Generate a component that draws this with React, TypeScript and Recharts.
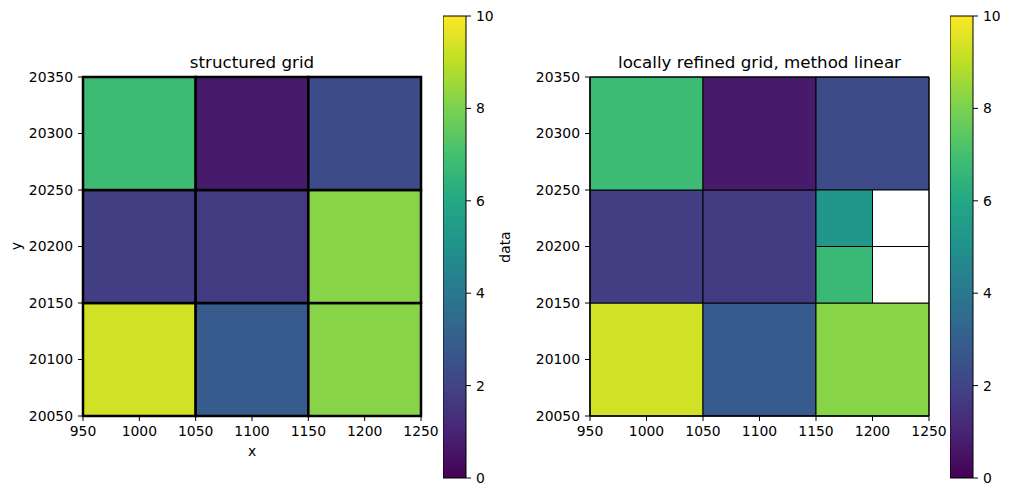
import React from "react";
import { ComposedChart, ReferenceArea, XAxis, YAxis } from "recharts";

const xEdges = [950, 1050, 1150, 1250];
const yEdges = [20050, 20150, 20250, 20350];
const xTicks = [950, 1000, 1050, 1100, 1150, 1200, 1250];
const yTicks = [20050, 20100, 20150, 20200, 20250, 20300, 20350];

// rows run bottom to top, columns left to right
const structuredValues = [
  [9.3, 2.85, 8.2],
  [1.8, 1.7, 8.2],
  [6.8, 0.7, 2.3],
];

// coarse cell (row 1, col 2) is split into 2x2 sub-cells on the refined grid
const refinedRow = 1;
const refinedCol = 2;
const refinedXEdges = [1150, 1200, 1250];
const refinedYEdges = [20150, 20200, 20250];
const refinedValues: (number | null)[][] = [
  [6.7, null],
  [5.2, null],
];

const colorbarTicks = [0, 2, 4, 6, 8, 10];
const vmin = 0;
const vmax = 10;

const viridisStops = [
  "#440154", "#482475", "#414487", "#355f8d", "#2a788e", "#21918c",
  "#22a884", "#44bf70", "#7ad151", "#bddf26", "#fde725",
];

const FONT = "'DejaVu Sans', sans-serif";
const TICK = { fontSize: 13.9, fill: "#000", fontFamily: FONT };

function hexToRgb(h: string) {
  return [1, 3, 5].map((i) => parseInt(h.slice(i, i + 2), 16));
}

function viridis(v: number) {
  const t = Math.min(1, Math.max(0, (v - vmin) / (vmax - vmin))) * (viridisStops.length - 1);
  const i = Math.min(viridisStops.length - 2, Math.floor(t));
  const f = t - i;
  const a = hexToRgb(viridisStops[i]);
  const b = hexToRgb(viridisStops[i + 1]);
  const c = a.map((ch, k) => Math.round(ch + (b[k] - ch) * f));
  return `rgb(${c[0]},${c[1]},${c[2]})`;
}

interface GridCell {
  x1: number;
  x2: number;
  y1: number;
  y2: number;
  value: number | null;
}

function coarseCells(skipRefined: boolean): GridCell[] {
  const out: GridCell[] = [];
  structuredValues.forEach((row, r) =>
    row.forEach((value, c) => {
      if (skipRefined && r === refinedRow && c === refinedCol) return;
      out.push({ x1: xEdges[c], x2: xEdges[c + 1], y1: yEdges[r], y2: yEdges[r + 1], value });
    })
  );
  return out;
}

function refinedCells(): GridCell[] {
  const out = coarseCells(true);
  refinedValues.forEach((row, r) =>
    row.forEach((value, c) => {
      out.push({
        x1: refinedXEdges[c],
        x2: refinedXEdges[c + 1],
        y1: refinedYEdges[r],
        y2: refinedYEdges[r + 1],
        value,
      });
    })
  );
  return out;
}

function GridPlot({ cells, edgeWidth, left }: { cells: GridCell[]; edgeWidth: number; left: number }) {
  return (
    <div style={{ position: "absolute", left, top: 0 }}>
      <ComposedChart width={440} height={496} margin={{ top: 77, right: left === 0 ? 19 : 18, bottom: 40, left: 0 }}>
        <XAxis
          type="number"
          dataKey="x"
          domain={[950, 1250]}
          ticks={xTicks}
          height={40}
          tick={TICK}
          tickSize={5}
          tickMargin={5}
          stroke="#000"
          allowDataOverflow
        />
        <YAxis
          type="number"
          dataKey="y"
          domain={[20050, 20350]}
          ticks={yTicks}
          width={83}
          tick={TICK}
          tickSize={5}
          tickMargin={5}
          stroke="#000"
          allowDataOverflow
        />
        {cells.map((c, i) => (
          <ReferenceArea
            key={i}
            x1={c.x1}
            x2={c.x2}
            y1={c.y1}
            y2={c.y2}
            fill={c.value === null ? "#ffffff" : viridis(c.value)}
            fillOpacity={1}
            stroke="#000"
            strokeWidth={edgeWidth}
          />
        ))}
        <ReferenceArea x1={950} x2={1250} y1={20050} y2={20350} fill="none" stroke="#000" strokeWidth={1} />
      </ComposedChart>
    </div>
  );
}

function Colorbar({ left, id }: { left: number; id: string }) {
  return (
    <div style={{ position: "absolute", left, top: 0 }}>
      <ComposedChart width={80} height={496} margin={{ top: 16, right: 0, bottom: 18, left: 0 }}>
        <defs>
          <linearGradient id={id} x1="0" y1="1" x2="0" y2="0">
            {viridisStops.map((c, i) => (
              <stop key={i} offset={i / (viridisStops.length - 1)} stopColor={c} />
            ))}
          </linearGradient>
        </defs>
        <XAxis type="number" dataKey="x" domain={[0, 1]} hide allowDataOverflow />
        <YAxis
          type="number"
          dataKey="v"
          orientation="right"
          domain={[vmin, vmax]}
          ticks={colorbarTicks}
          width={57}
          tick={TICK}
          tickSize={5}
          tickMargin={5}
          stroke="#000"
          axisLine={false}
          allowDataOverflow
        />
        <ReferenceArea
          x1={0}
          x2={1}
          y1={vmin}
          y2={vmax}
          fill={`url(#${id})`}
          fillOpacity={1}
          stroke="#000"
          strokeWidth={1}
        />
      </ComposedChart>
    </div>
  );
}

export default function App() {
  return (
    <div style={{ position: "absolute", left: 0, top: 0, width: 1010, height: 496, background: "#fff", fontFamily: FONT }}>
      <GridPlot cells={coarseCells(false)} edgeWidth={2.5} left={0} />
      <Colorbar left={443} id="cbLeft" />
      <GridPlot cells={refinedCells()} edgeWidth={1} left={507} />
      <Colorbar left={950} id="cbRight" />
      <svg width={1010} height={496} style={{ position: "absolute", left: 0, top: 0, pointerEvents: "none" }}>
        <g fontFamily={FONT} fill="#000">
          <text x={252} y={68} fontSize={16.7} textAnchor="middle">structured grid</text>
          <text x={759.5} y={68} fontSize={16.7} textAnchor="middle">locally refined grid, method linear</text>
          <text x={252} y={456} fontSize={13.9} textAnchor="middle">x</text>
          <text x={21} y={246} fontSize={13.9} textAnchor="middle" transform="rotate(-90 21 246)">y</text>
          <text x={510} y={247} fontSize={13.9} textAnchor="middle" transform="rotate(-90 510 247)">data</text>
        </g>
      </svg>
    </div>
  );
}
